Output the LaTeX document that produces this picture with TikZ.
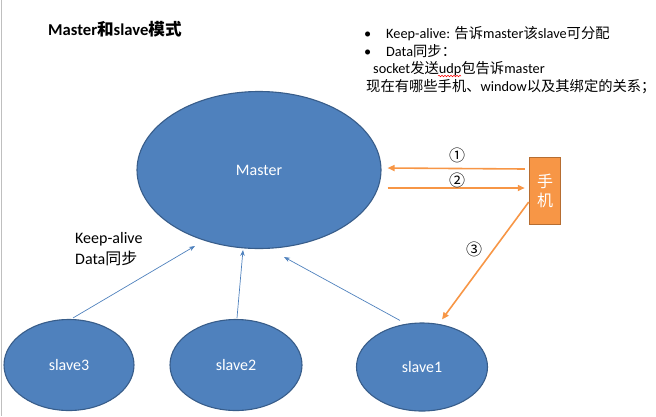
\documentclass[tikz,border=0pt]{standalone}
\usepackage{fontspec}
\setmainfont{Carlito}
\newfontfamily\cjk{Noto Sans CJK SC}
\usetikzlibrary{shapes.geometric,arrows.meta,decorations.pathmorphing}
\definecolor{bfill}{HTML}{4F81BD}
\definecolor{bdraw}{HTML}{385D8A}
\definecolor{ofill}{HTML}{F79646}
\definecolor{odraw}{HTML}{B66D31}
\definecolor{edgegray}{HTML}{BFBFBF}
\newcommand{\zh}[1]{{\cjk #1}}
\begin{document}
\begin{tikzpicture}[x=1pt,y=-1pt,
  blob/.style={ellipse,fill=bfill,draw=bdraw,line width=1.1pt,inner sep=0pt,text=white,font=\fontsize{16}{19}\selectfont},
  barrow/.style={draw=bfill,line width=0.7pt,-{Stealth[length=6pt,width=4.5pt]}},
  oarrow/.style={draw=ofill,line width=1.6pt,-{Triangle[length=7pt,width=6pt]}},
  txt/.style={anchor=base west,inner sep=0pt,font=\fontsize{14.3}{17}\selectfont},
  lbl/.style={anchor=base west,inner sep=0pt,font=\fontsize{16}{19}\selectfont},
  num/.style={inner sep=0pt,font=\cjk\fontsize{16}{18}\selectfont}]
\useasboundingbox (0,0) rectangle (656,416);
\draw[edgegray,line width=1pt] (1.5,0) -- (1.5,416);
% nodes
\node[blob,minimum width=244,minimum height=157] (m) at (259,170) {Master};
\node[blob,minimum width=130,minimum height=91] (s3) at (69,365) {slave3};
\node[blob,minimum width=132,minimum height=91] (s2) at (236,365) {slave2};
\node[blob,minimum width=131,minimum height=88] (s1) at (422,367) {slave1};
\node[fill=ofill,draw=odraw,line width=1.5pt,minimum width=31,minimum height=67,inner sep=0pt,text=white,align=center,font=\cjk\fontsize{16}{19.5}\selectfont] (p) at (545,191) {手\\机};
% title
\node[lbl,font=\bfseries\fontsize{16.6}{19}\selectfont] (title) at (48,35) {Master\zh{和}slave\zh{模式}};
% top notes
\node[txt] (b1) at (364,38) {•};
\node[txt] (l1) at (386,38) {Keep-alive: \zh{告诉}master\zh{该}slave\zh{可分配}};
\node[txt] (b2) at (364,56) {•};
\node[txt] (l2) at (386,56) {Data\zh{同步：}};
\node[txt] (l3) at (373,73) {socket\zh{发送}udp\zh{包告诉}master};
\node[txt] (l4) at (366,91) {\zh{现在有哪些手机、}window\zh{以及其绑定的关系；}};
\draw[red,line width=0.5pt,decorate,decoration={snake,amplitude=0.8pt,segment length=3pt}] (438,76) -- (461,76);
% keep-alive label
\node[lbl] (k1) at (75,243) {Keep-alive};
\node[lbl] (k2) at (75,264) {Data\zh{同步}};
% blue arrows
\coordinate (t3) at (195,246);
\coordinate (t2) at (243,250);
\coordinate (t1) at (284,257);
\draw[barrow] ([shift={(4,-1)}]s3.north) -- (t3);
\draw[barrow] ([shift={(1,-1)}]s2.north) -- (t2);
\draw[barrow] ([shift={(-22,-2)}]s1.north) -- (t1);
% orange arrows
\draw[oarrow] ([shift={(-4,-22)}]p.west) -- ([shift={(6,-2)}]m.east);
\draw[oarrow] ([shift={(6,18)}]m.east) -- ([shift={(-4,-3)}]p.west);
\draw[oarrow] ([shift={(0,11)}]p.west) -- ([shift={(20,-3)}]s1.north);
\node[num] (n1) at (457,155) {①};
\node[num] (n2) at (457,180) {②};
\node[num] (n3) at (474,249) {③};
\end{tikzpicture}
\end{document}
